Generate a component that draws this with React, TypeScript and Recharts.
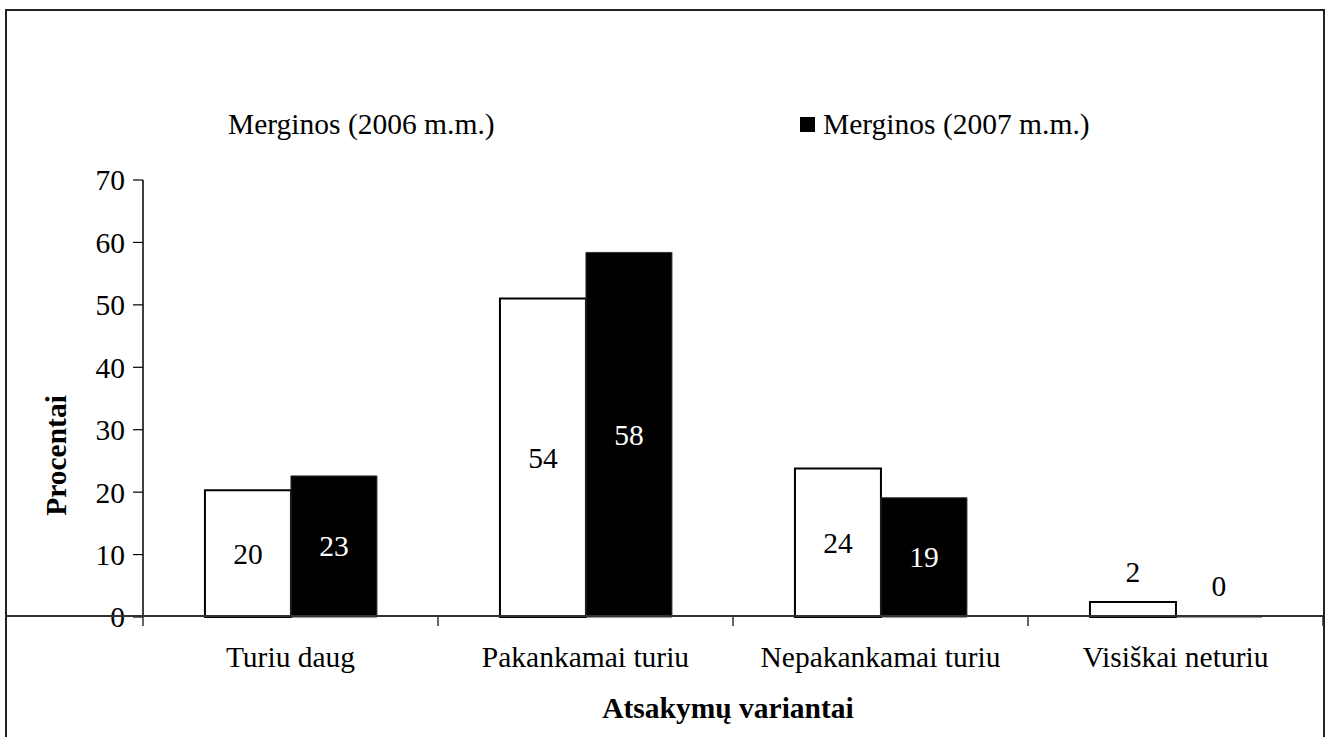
import React from 'react';
import { BarChart, Bar, XAxis, YAxis, Legend, LabelList } from 'recharts';

const categories = ['Turiu daug', 'Pakankamai turiu', 'Nepakankamai turiu', 'Visiškai neturiu'];
const values2006 = [20.3, 51.0, 23.8, 2.4];
const values2007 = [22.6, 58.4, 19.1, 0];
const labels2006 = [20, 54, 24, 2];
const labels2007 = [23, 58, 19, 0];
const seriesNames = ['Merginos (2006 m.m.)', 'Merginos (2007 m.m.)'];
const yTicks = [0, 10, 20, 30, 40, 50, 60, 70];

const data = categories.map((name, i) => ({
  name,
  v2006: values2006[i],
  v2007: values2007[i],
  l2006: labels2006[i],
  l2007: labels2007[i],
}));

const FONT = '"Liberation Serif", "Times New Roman", serif';
const FS = 29.5;

const makeLabel = (insideColor: string) => (props: any) => {
  const { x, y, width, height, value } = props;
  const h = Math.abs(Number(height) || 0);
  const inside = h > 40;
  const top = Math.min(Number(y), Number(y) + Number(height || 0));
  const cy = inside ? top + h / 2 : top - 30;
  return (
    <text
      x={Number(x) + Number(width) / 2}
      y={cy}
      textAnchor="middle"
      dominantBaseline="central"
      fill={inside ? insideColor : '#000'}
      fontFamily={FONT}
      fontSize={FS}
    >
      {value}
    </text>
  );
};

const CategoryTick = (props: any) => {
  const { x, y, payload } = props;
  const half = payload.offset || 0;
  const isLast = payload.value === categories[categories.length - 1];
  return (
    <g>
      <line x1={x - half} x2={x - half} y1={y} y2={y + 9} stroke="#000" strokeWidth={1.2} />
      {isLast && <line x1={x + half} x2={x + half} y1={y} y2={y + 9} stroke="#000" strokeWidth={1.2} />}
      <text x={x} y={y + 50} textAnchor="middle" fill="#000" fontFamily={FONT} fontSize={FS}>
        {payload.value}
      </text>
    </g>
  );
};

const LegendContent = (props: any) => {
  const items = props.payload || [];
  const spots = [205, 800];
  return (
    <div style={{ position: 'relative', width: 1330, height: 40, fontFamily: FONT, fontSize: FS }}>
      {items.map((item: any, i: number) => (
        <div key={i} style={{ position: 'absolute', left: spots[i], top: 0, height: 40, display: 'flex', alignItems: 'center' }}>
          <span
            style={{
              display: 'inline-block',
              width: 15,
              height: 15,
              background: i === 0 ? '#fff' : '#000',
              marginRight: 8,
            }}
          />
          <span style={{ color: '#000', lineHeight: '40px', whiteSpace: 'nowrap' }}>{item.value}</span>
        </div>
      ))}
    </div>
  );
};

// zero values still need a rect so that their label is drawn; it hides under the base line
const zeroPoint = (value: any) => (Number(value) === 0 ? 1 : 0);

const App: React.FC = () => {
  return (
    <div style={{ position: 'absolute', top: 0, left: 0, width: 1330, height: 737, overflow: 'hidden', background: '#fff' }}>
      <BarChart
        width={1330}
        height={737}
        data={data}
        margin={{ top: 180, right: 7, left: 0, bottom: 0 }}
        barCategoryGap="21%"
        barGap={0}
      >
        <XAxis
          dataKey="name"
          height={120}
          axisLine={false}
          tickLine={false}
          tickSize={0}
          tickMargin={0}
          interval={0}
          tick={<CategoryTick />}
          label={{
            content: (p: any) => {
              const vb = p.viewBox || {};
              return (
                <text
                  x={vb.x + vb.width / 2 - 5}
                  y={vb.y + 91}
                  textAnchor="middle"
                  dominantBaseline="central"
                  fontFamily={FONT}
                  fontSize={FS}
                  fontWeight="bold"
                  fill="#000"
                >
                  Atsakymų variantai
                </text>
              );
            },
          }}
        />
        <YAxis
          width={143}
          domain={[0, 70]}
          ticks={yTicks}
          interval={0}
          tickSize={10}
          tickMargin={8}
          axisLine={{ stroke: '#000', strokeWidth: 1.5 }}
          tickLine={{ stroke: '#000', strokeWidth: 1.2 }}
          tick={{ fill: '#000', fontFamily: FONT, fontSize: FS }}
          label={{
            content: (p: any) => {
              const vb = p.viewBox || {};
              const cx = vb.x + 56;
              const cy = vb.y + vb.height / 2 + 57;
              return (
                <text
                  x={cx}
                  y={cy}
                  transform={`rotate(-90 ${cx} ${cy})`}
                  textAnchor="middle"
                  dominantBaseline="central"
                  fontFamily={FONT}
                  fontSize={FS}
                  fontWeight="bold"
                  fill="#000"
                >
                  Procentai
                </text>
              );
            },
          }}
        />
        <Legend
          layout="horizontal"
          verticalAlign="middle"
          align="center"
          content={<LegendContent />}
          wrapperStyle={{ top: 104, left: 0, width: 1330, height: 40 }}
        />
        <Bar dataKey="v2006" name={seriesNames[0]} fill="#fff" stroke="#000" strokeWidth={2} isAnimationActive={false}>
          <LabelList dataKey="l2006" content={makeLabel('#000')} />
        </Bar>
        <Bar
          dataKey="v2007"
          name={seriesNames[1]}
          fill="#000"
          stroke="#333"
          strokeWidth={1}
          minPointSize={zeroPoint}
          isAnimationActive={false}
        >
          <LabelList dataKey="l2007" content={makeLabel('#fff')} />
        </Bar>
      </BarChart>
      <div style={{ position: 'absolute', left: 6, top: 615, width: 1318, height: 2, background: '#333' }} />
      <div
        style={{
          position: 'absolute',
          left: 5,
          top: 9,
          width: 1320,
          height: 760,
          border: '2px solid #222',
          boxSizing: 'border-box',
        }}
      />
    </div>
  );
};

export default App;
